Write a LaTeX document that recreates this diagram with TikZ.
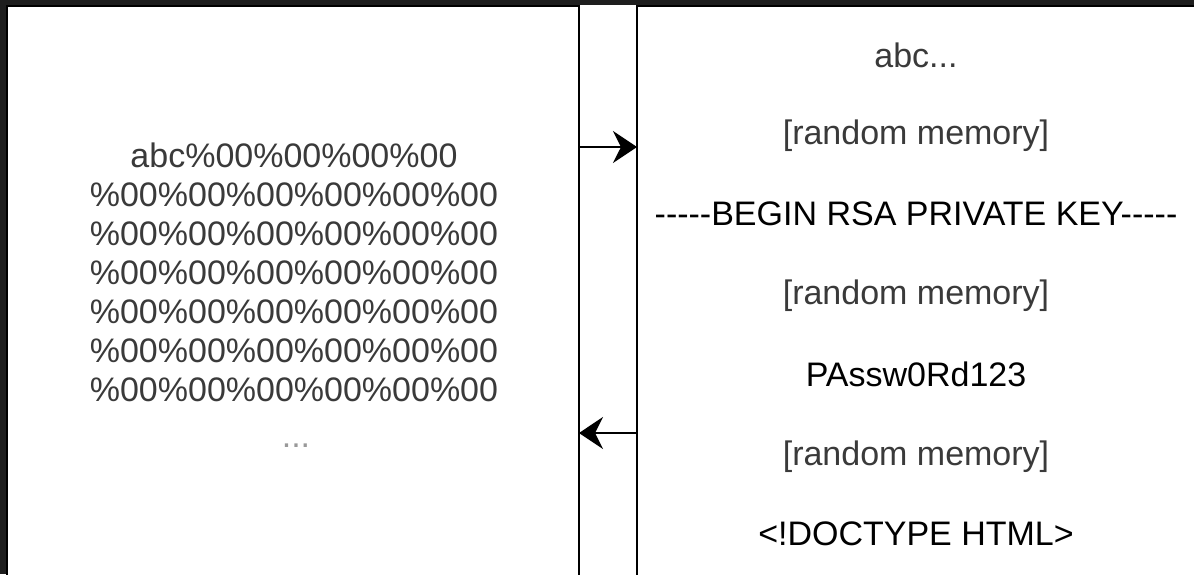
\documentclass[tikz,border=0pt]{standalone}
\usepackage{fontspec}
\setmainfont{Liberation Sans}
\usetikzlibrary{arrows.meta}
\definecolor{frame}{HTML}{1E1E1E}
\definecolor{txt}{HTML}{3A3A3A}
\begin{document}
\begin{tikzpicture}[x=0.5pt, y=-0.5pt,
  every node/.style={font=\fontsize{17}{19.5}\selectfont, text=txt},
  box/.style={draw, line width=1pt, inner sep=0pt, outer sep=0pt, minimum height=347pt},
  memtxt/.style={text=txt},
  keytxt/.style={text=black},
  flow/.style={line width=1pt, -{Stealth[length=12pt, width=16pt, inset=4pt]}}]
\useasboundingbox (0,0) rectangle (1194,574);
\clip (0,0) rectangle (1194,574);
\fill[white] (0,0) rectangle (1194,574);
% screen frame
\fill[frame] (0,0) rectangle (1194,5);
\fill[frame] (0,0) rectangle (6,574);
% request buffer and server memory
\node[box, minimum width=286.25pt] (buf) at (292.75,352.75) {};
\node[box, minimum width=306.5pt] (mem) at (943.5,352.75) {};
\node[align=center] (zeros) at (294,272) {abc\%00\%00\%00\%00\\
  \%00\%00\%00\%00\%00\%00\\ \%00\%00\%00\%00\%00\%00\\
  \%00\%00\%00\%00\%00\%00\\ \%00\%00\%00\%00\%00\%00\\
  \%00\%00\%00\%00\%00\%00\\ \%00\%00\%00\%00\%00\%00};
\node[text=black!40] (dots) at (296,446) {...};
\node[memtxt] (abc) at (916,55) {abc...};
\node[memtxt] (rand1) at (916,136) {[random memory]};
\node[keytxt] (rsa) at (916,214) {-{}-{}-{}-{}-BEGIN RSA PRIVATE KEY-{}-{}-{}-{}-};
\node[memtxt] (rand2) at (916,296) {[random memory]};
\node[keytxt] (pass) at (916,374) {PAssw0Rd123};
\node[memtxt] (rand3) at (916,457) {[random memory]};
\node[keytxt] (html) at (916,534) {<!DOCTYPE HTML>};
% heartbeat request and reply
\coordinate (req) at (0,147);
\coordinate (resp) at (0,433);
\draw[flow] (buf.east |- req) -- (mem.west |- req);
\draw[flow] (mem.west |- resp) -- (buf.east |- resp);
\end{tikzpicture}
\end{document}
